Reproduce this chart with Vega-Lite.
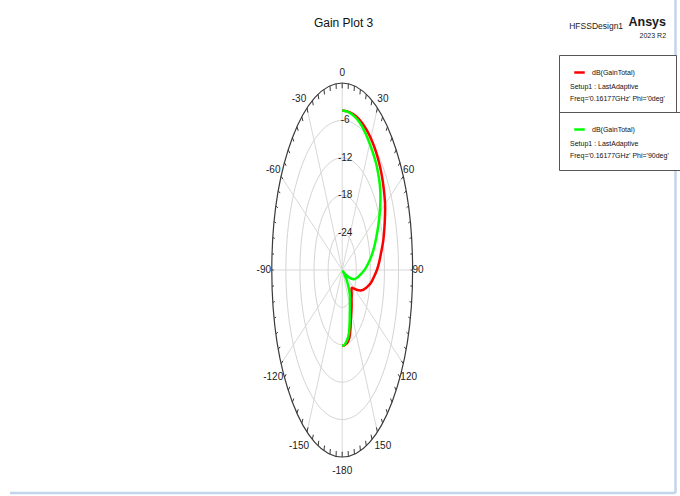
{
  "$schema": "https://vega.github.io/schema/vega-lite/v6.json",
  "width": 680,
  "height": 456,
  "autosize": {"type": "none"},
  "padding": {"left": 0, "top": 40, "right": 0, "bottom": 0},
  "background": "#ffffff",
  "config": {"view": {"stroke": null}},
  "datasets": {
    "curves": [
      {"phi": "0deg", "theta": 0, "gain": -4.4}, {"phi": "0deg", "theta": 5, "gain": -4.45}, {"phi": "0deg", "theta": 10, "gain": -4.55},
      {"phi": "0deg", "theta": 15, "gain": -4.7}, {"phi": "0deg", "theta": 20, "gain": -4.95}, {"phi": "0deg", "theta": 25, "gain": -5.25},
      {"phi": "0deg", "theta": 30, "gain": -5.6}, {"phi": "0deg", "theta": 35, "gain": -6.0}, {"phi": "0deg", "theta": 40, "gain": -6.45},
      {"phi": "0deg", "theta": 45, "gain": -6.95}, {"phi": "0deg", "theta": 50, "gain": -7.55}, {"phi": "0deg", "theta": 55, "gain": -8.2},
      {"phi": "0deg", "theta": 60, "gain": -8.9}, {"phi": "0deg", "theta": 65, "gain": -9.9}, {"phi": "0deg", "theta": 70, "gain": -10.9},
      {"phi": "0deg", "theta": 75, "gain": -11.9}, {"phi": "0deg", "theta": 80, "gain": -13.1}, {"phi": "0deg", "theta": 85, "gain": -14.1},
      {"phi": "0deg", "theta": 90, "gain": -15.2}, {"phi": "0deg", "theta": 95, "gain": -16.5}, {"phi": "0deg", "theta": 100, "gain": -17.7},
      {"phi": "0deg", "theta": 105, "gain": -19.2}, {"phi": "0deg", "theta": 110, "gain": -20.6}, {"phi": "0deg", "theta": 115, "gain": -22.3},
      {"phi": "0deg", "theta": 120, "gain": -24.0}, {"phi": "0deg", "theta": 125, "gain": -25.0}, {"phi": "0deg", "theta": 130, "gain": -24.8},
      {"phi": "0deg", "theta": 135, "gain": -24.3}, {"phi": "0deg", "theta": 140, "gain": -23.8}, {"phi": "0deg", "theta": 145, "gain": -23.0},
      {"phi": "0deg", "theta": 150, "gain": -22.2}, {"phi": "0deg", "theta": 155, "gain": -21.3}, {"phi": "0deg", "theta": 160, "gain": -19.8},
      {"phi": "0deg", "theta": 165, "gain": -18.6}, {"phi": "0deg", "theta": 170, "gain": -18.1}, {"phi": "0deg", "theta": 175, "gain": -17.9},
      {"phi": "0deg", "theta": 180, "gain": -17.8},
      {"phi": "90deg", "theta": 0, "gain": -4.4}, {"phi": "90deg", "theta": 5, "gain": -4.5}, {"phi": "90deg", "theta": 10, "gain": -4.7},
      {"phi": "90deg", "theta": 15, "gain": -5.0}, {"phi": "90deg", "theta": 20, "gain": -5.45}, {"phi": "90deg", "theta": 25, "gain": -6.0},
      {"phi": "90deg", "theta": 30, "gain": -6.6}, {"phi": "90deg", "theta": 35, "gain": -7.1}, {"phi": "90deg", "theta": 40, "gain": -7.6},
      {"phi": "90deg", "theta": 45, "gain": -8.25}, {"phi": "90deg", "theta": 50, "gain": -9.0}, {"phi": "90deg", "theta": 55, "gain": -10.1},
      {"phi": "90deg", "theta": 60, "gain": -11.5}, {"phi": "90deg", "theta": 65, "gain": -13.0}, {"phi": "90deg", "theta": 70, "gain": -14.5},
      {"phi": "90deg", "theta": 75, "gain": -15.9}, {"phi": "90deg", "theta": 80, "gain": -17.4}, {"phi": "90deg", "theta": 85, "gain": -19.0},
      {"phi": "90deg", "theta": 90, "gain": -20.5}, {"phi": "90deg", "theta": 95, "gain": -22.1}, {"phi": "90deg", "theta": 100, "gain": -23.3},
      {"phi": "90deg", "theta": 105, "gain": -24.4}, {"phi": "90deg", "theta": 110, "gain": -26.0}, {"phi": "90deg", "theta": 115, "gain": -27.9},
      {"phi": "90deg", "theta": 120, "gain": -29.2}, {"phi": "90deg", "theta": 123, "gain": -29.6}, {"phi": "90deg", "theta": 126, "gain": -29.0},
      {"phi": "90deg", "theta": 130, "gain": -27.6}, {"phi": "90deg", "theta": 135, "gain": -26.3}, {"phi": "90deg", "theta": 140, "gain": -25.0},
      {"phi": "90deg", "theta": 145, "gain": -24.2}, {"phi": "90deg", "theta": 150, "gain": -23.4}, {"phi": "90deg", "theta": 155, "gain": -22.3},
      {"phi": "90deg", "theta": 160, "gain": -20.8}, {"phi": "90deg", "theta": 165, "gain": -19.3}, {"phi": "90deg", "theta": 170, "gain": -18.5},
      {"phi": "90deg", "theta": 175, "gain": -18.0}, {"phi": "90deg", "theta": 180, "gain": -17.8}
    ],
    "rings": [
      {"level": -24, "label": "-24"}, {"level": -18, "label": "-18"}, {"level": -12, "label": "-12"}, {"level": -6, "label": "-6"}
    ],
    "outer": [{"level": 0}],
    "spokes": [
      {"a": 0}, {"a": 30}, {"a": 60}, {"a": 90}, {"a": 120}, {"a": 150},
      {"a": 180}, {"a": 210}, {"a": 240}, {"a": 270}, {"a": 300}, {"a": 330}
    ],
    "ticks": [
      {"a": 0}, {"a": 5}, {"a": 10}, {"a": 15}, {"a": 20}, {"a": 25}, {"a": 30}, {"a": 35}, {"a": 40}, {"a": 45}, {"a": 50}, {"a": 55},
      {"a": 60}, {"a": 65}, {"a": 70}, {"a": 75}, {"a": 80}, {"a": 85}, {"a": 90}, {"a": 95}, {"a": 100}, {"a": 105}, {"a": 110}, {"a": 115},
      {"a": 120}, {"a": 125}, {"a": 130}, {"a": 135}, {"a": 140}, {"a": 145}, {"a": 150}, {"a": 155}, {"a": 160}, {"a": 165}, {"a": 170}, {"a": 175},
      {"a": 180}, {"a": 185}, {"a": 190}, {"a": 195}, {"a": 200}, {"a": 205}, {"a": 210}, {"a": 215}, {"a": 220}, {"a": 225}, {"a": 230}, {"a": 235},
      {"a": 240}, {"a": 245}, {"a": 250}, {"a": 255}, {"a": 260}, {"a": 265}, {"a": 270}, {"a": 275}, {"a": 280}, {"a": 285}, {"a": 290}, {"a": 295},
      {"a": 300}, {"a": 305}, {"a": 310}, {"a": 315}, {"a": 320}, {"a": 325}, {"a": 330}, {"a": 335}, {"a": 340}, {"a": 345}, {"a": 350}, {"a": 355}
    ],
    "angles": [
      {"a": 0, "label": "0"}, {"a": 30, "label": "30"}, {"a": 60, "label": "60"}, {"a": 90, "label": "90"},
      {"a": 120, "label": "120"}, {"a": 150, "label": "150"}, {"a": -180, "label": "-180"}, {"a": -150, "label": "-150"},
      {"a": -120, "label": "-120"}, {"a": -90, "label": "-90"}, {"a": -60, "label": "-60"}, {"a": -30, "label": "-30"}
    ],
    "heading": [
      {"t": "Gain Plot 3", "role": "title"},
      {"t": "HFSSDesign1", "role": "design"},
      {"t": "Ansys", "role": "vendor"},
      {"t": "2023 R2", "role": "release"}
    ],
    "frame": [{"side": "right"}, {"side": "bottom"}]
  },
  "encoding": {
    "x": {"field": "px", "type": "quantitative", "scale": {"domain": [-4.8608, 4.7983], "nice": false, "zero": false}, "axis": null},
    "y": {"field": "py", "type": "quantitative", "scale": {"domain": [-1.20856, 1.22995], "nice": false, "zero": false}, "axis": null}
  },
  "layer": [
    {
      "data": {"name": "frame"},
      "transform": [
        {"calculate": "datum.side == 'right' ? 4.7345 : -4.719", "as": "px"},
        {"calculate": "datum.side == 'right' ? 1.444 : -1.1925", "as": "py"},
        {"calculate": "4.7345", "as": "px2"},
        {"calculate": "-1.1925", "as": "py2"}
      ],
      "mark": {"type": "rule", "stroke": "#c3d5ec", "strokeWidth": 2.5},
      "encoding": {
        "x2": {"field": "px2"},
        "y2": {"field": "py2"}
      }
    },
    {
      "data": {"name": "rings"},
      "transform": [
        {"calculate": "(datum.level + 30) / 30", "as": "r"},
        {"calculate": "0", "as": "px"},
        {"calculate": "0", "as": "py"}
      ],
      "mark": {
        "type": "point",
        "shape": "M0,-1C0.2079,-1,0.3765,-0.5523,0.3765,0C0.3765,0.5523,0.2079,1,0,1C-0.2079,1,-0.3765,0.5523,-0.3765,0C-0.3765,-0.5523,-0.2079,-1,0,-1Z",
        "filled": false,
        "opacity": 1,
        "stroke": "#d4d4d4",
        "strokeWidth": 1
      },
      "encoding": {
        "size": {"field": "r", "type": "quantitative", "scale": {"type": "pow", "exponent": 2, "domain": [0, 1], "range": [0, 139876]}, "legend": null}
      }
    },
    {
      "data": {"name": "spokes"},
      "transform": [
        {"calculate": "0", "as": "px"},
        {"calculate": "0", "as": "py"},
        {"calculate": "sin(datum.a * PI / 180)", "as": "px2"},
        {"calculate": "cos(datum.a * PI / 180)", "as": "py2"}
      ],
      "mark": {"type": "rule", "stroke": "#d8d8d8", "strokeWidth": 1},
      "encoding": {
        "x2": {"field": "px2"},
        "y2": {"field": "py2"}
      }
    },
    {
      "data": {"name": "outer"},
      "transform": [
        {"calculate": "(datum.level + 30) / 30", "as": "r"},
        {"calculate": "0", "as": "px"},
        {"calculate": "0", "as": "py"}
      ],
      "mark": {
        "type": "point",
        "shape": "M0,-1C0.2079,-1,0.3765,-0.5523,0.3765,0C0.3765,0.5523,0.2079,1,0,1C-0.2079,1,-0.3765,0.5523,-0.3765,0C-0.3765,-0.5523,-0.2079,-1,0,-1Z",
        "filled": false,
        "opacity": 1,
        "stroke": "#3a3a3a",
        "strokeWidth": 1.2
      },
      "encoding": {
        "size": {"field": "r", "type": "quantitative", "scale": {"type": "pow", "exponent": 2, "domain": [0, 1], "range": [0, 139876]}, "legend": null}
      }
    },
    {
      "data": {"name": "ticks"},
      "transform": [
        {"calculate": "sin(datum.a * PI / 180)", "as": "px"},
        {"calculate": "cos(datum.a * PI / 180)", "as": "py"},
        {"calculate": "0.972 * datum.px", "as": "px2"},
        {"calculate": "0.972 * datum.py", "as": "py2"}
      ],
      "mark": {"type": "rule", "stroke": "#3a3a3a", "strokeWidth": 1},
      "encoding": {
        "x2": {"field": "px2"},
        "y2": {"field": "py2"}
      }
    },
    {
      "data": {"name": "angles"},
      "transform": [
        {"calculate": "sin(datum.a * PI / 180)", "as": "sx"},
        {"calculate": "cos(datum.a * PI / 180)", "as": "cy"},
        {"calculate": "datum.sx + (datum.sx > 0.01 ? 5.5 : datum.sx < -0.01 ? -8 : 0) / 70.4", "as": "px"},
        {"calculate": "datum.cy + (abs(datum.a) < 90 ? 4 + 6 * datum.cy : abs(datum.a) == 90 ? 0 : -14) / 187", "as": "py"}
      ],
      "mark": {
        "type": "text",
        "align": "center",
        "baseline": "middle",
        "font": "Liberation Sans, Arial, sans-serif",
        "fontSize": 10,
        "color": "#1a1a1a"
      },
      "encoding": {"text": {"field": "label"}}
    },
    {
      "data": {"name": "rings"},
      "transform": [
        {"calculate": "0", "as": "px"},
        {"calculate": "(datum.level + 30) / 30", "as": "py"}
      ],
      "mark": {
        "type": "text",
        "align": "center",
        "baseline": "middle",
        "dx": 3,
        "font": "Liberation Sans, Arial, sans-serif",
        "fontSize": 10,
        "color": "#1a1a1a"
      },
      "encoding": {"text": {"field": "label"}}
    },
    {
      "data": {"name": "curves"},
      "transform": [
        {"filter": "datum.phi == '0deg'"},
        {"calculate": "(datum.gain + 30) / 30", "as": "r"},
        {"calculate": "datum.r * sin(datum.theta * PI / 180)", "as": "px"},
        {"calculate": "datum.r * cos(datum.theta * PI / 180)", "as": "py"}
      ],
      "mark": {"type": "line", "strokeWidth": 2.5, "interpolate": "catmull-rom"},
      "encoding": {
        "order": {"field": "theta", "type": "quantitative"},
        "color": {
          "field": "phi",
          "type": "nominal",
          "scale": {"domain": ["0deg"], "range": ["#ff0000"]},
          "legend": {
            "orient": "none",
            "legendX": 559,
            "legendY": 15,
            "title": ["Setup1 : LastAdaptive", "Freq='0.16177GHz' Phi='0deg'"],
            "titleOrient": "bottom",
            "titleAnchor": "start",
            "titleAlign": "left",
            "titleFont": "Liberation Sans, Arial, sans-serif",
            "titleFontSize": 7,
            "titleFontWeight": "normal",
            "titleColor": "#111111",
            "titleLineHeight": 12,
            "titlePadding": 5,
            "labelExpr": "'dB(GainTotal)'",
            "labelFont": "Liberation Sans, Arial, sans-serif",
            "labelFontSize": 7,
            "labelColor": "#111111",
            "labelOffset": 6,
            "symbolType": "stroke",
            "symbolSize": 110,
            "symbolStrokeWidth": 2.5,
            "symbolOffset": 3,
            "strokeColor": "#555555",
            "fillColor": "#ffffff",
            "padding": 11,
            "cornerRadius": 0
          }
        }
      }
    },
    {
      "data": {"name": "curves"},
      "transform": [
        {"filter": "datum.phi == '90deg'"},
        {"calculate": "(datum.gain + 30) / 30", "as": "r"},
        {"calculate": "datum.r * sin(datum.theta * PI / 180)", "as": "px"},
        {"calculate": "datum.r * cos(datum.theta * PI / 180)", "as": "py"}
      ],
      "mark": {"type": "line", "strokeWidth": 2.5, "interpolate": "catmull-rom"},
      "encoding": {
        "order": {"field": "theta", "type": "quantitative"},
        "stroke": {
          "field": "phi",
          "type": "nominal",
          "scale": {"domain": ["90deg"], "range": ["#00ff00"]},
          "legend": {
            "orient": "none",
            "legendX": 559,
            "legendY": 72,
            "title": ["Setup1 : LastAdaptive", "Freq='0.16177GHz' Phi='90deg'"],
            "titleOrient": "bottom",
            "titleAnchor": "start",
            "titleAlign": "left",
            "titleFont": "Liberation Sans, Arial, sans-serif",
            "titleFontSize": 7,
            "titleFontWeight": "normal",
            "titleColor": "#111111",
            "titleLineHeight": 12,
            "titlePadding": 5,
            "labelExpr": "'dB(GainTotal)'",
            "labelFont": "Liberation Sans, Arial, sans-serif",
            "labelFontSize": 7,
            "labelColor": "#111111",
            "labelOffset": 6,
            "symbolType": "stroke",
            "symbolSize": 110,
            "symbolStrokeWidth": 2.5,
            "symbolOffset": 3,
            "strokeColor": "#555555",
            "fillColor": "#ffffff",
            "padding": 11,
            "cornerRadius": 0
          }
        }
      }
    },
    {
      "data": {"name": "heading"},
      "transform": [
        {"filter": "datum.role == 'title'"},
        {"calculate": "0.02", "as": "px"},
        {"calculate": "1.323", "as": "py"}
      ],
      "mark": {
        "type": "text",
        "align": "center",
        "baseline": "middle",
        "font": "Liberation Sans, Arial, sans-serif",
        "fontSize": 12,
        "color": "#111111"
      },
      "encoding": {"text": {"field": "t"}}
    },
    {
      "data": {"name": "heading"},
      "transform": [
        {"filter": "datum.role == 'design'"},
        {"calculate": "3.99", "as": "px"},
        {"calculate": "1.303", "as": "py"}
      ],
      "mark": {
        "type": "text",
        "align": "right",
        "baseline": "middle",
        "font": "Liberation Sans, Arial, sans-serif",
        "fontSize": 8.5,
        "color": "#222222"
      },
      "encoding": {"text": {"field": "t"}}
    },
    {
      "data": {"name": "heading"},
      "transform": [
        {"filter": "datum.role == 'vendor'"},
        {"calculate": "4.60", "as": "px"},
        {"calculate": "1.325", "as": "py"}
      ],
      "mark": {
        "type": "text",
        "align": "right",
        "baseline": "middle",
        "font": "Liberation Sans, Arial, sans-serif",
        "fontSize": 12.5,
        "fontWeight": "bold",
        "color": "#1a1a1a"
      },
      "encoding": {"text": {"field": "t"}}
    },
    {
      "data": {"name": "heading"},
      "transform": [
        {"filter": "datum.role == 'release'"},
        {"calculate": "4.60", "as": "px"},
        {"calculate": "1.249", "as": "py"}
      ],
      "mark": {
        "type": "text",
        "align": "right",
        "baseline": "middle",
        "font": "Liberation Sans, Arial, sans-serif",
        "fontSize": 7,
        "color": "#222222"
      },
      "encoding": {"text": {"field": "t"}}
    }
  ]
}
